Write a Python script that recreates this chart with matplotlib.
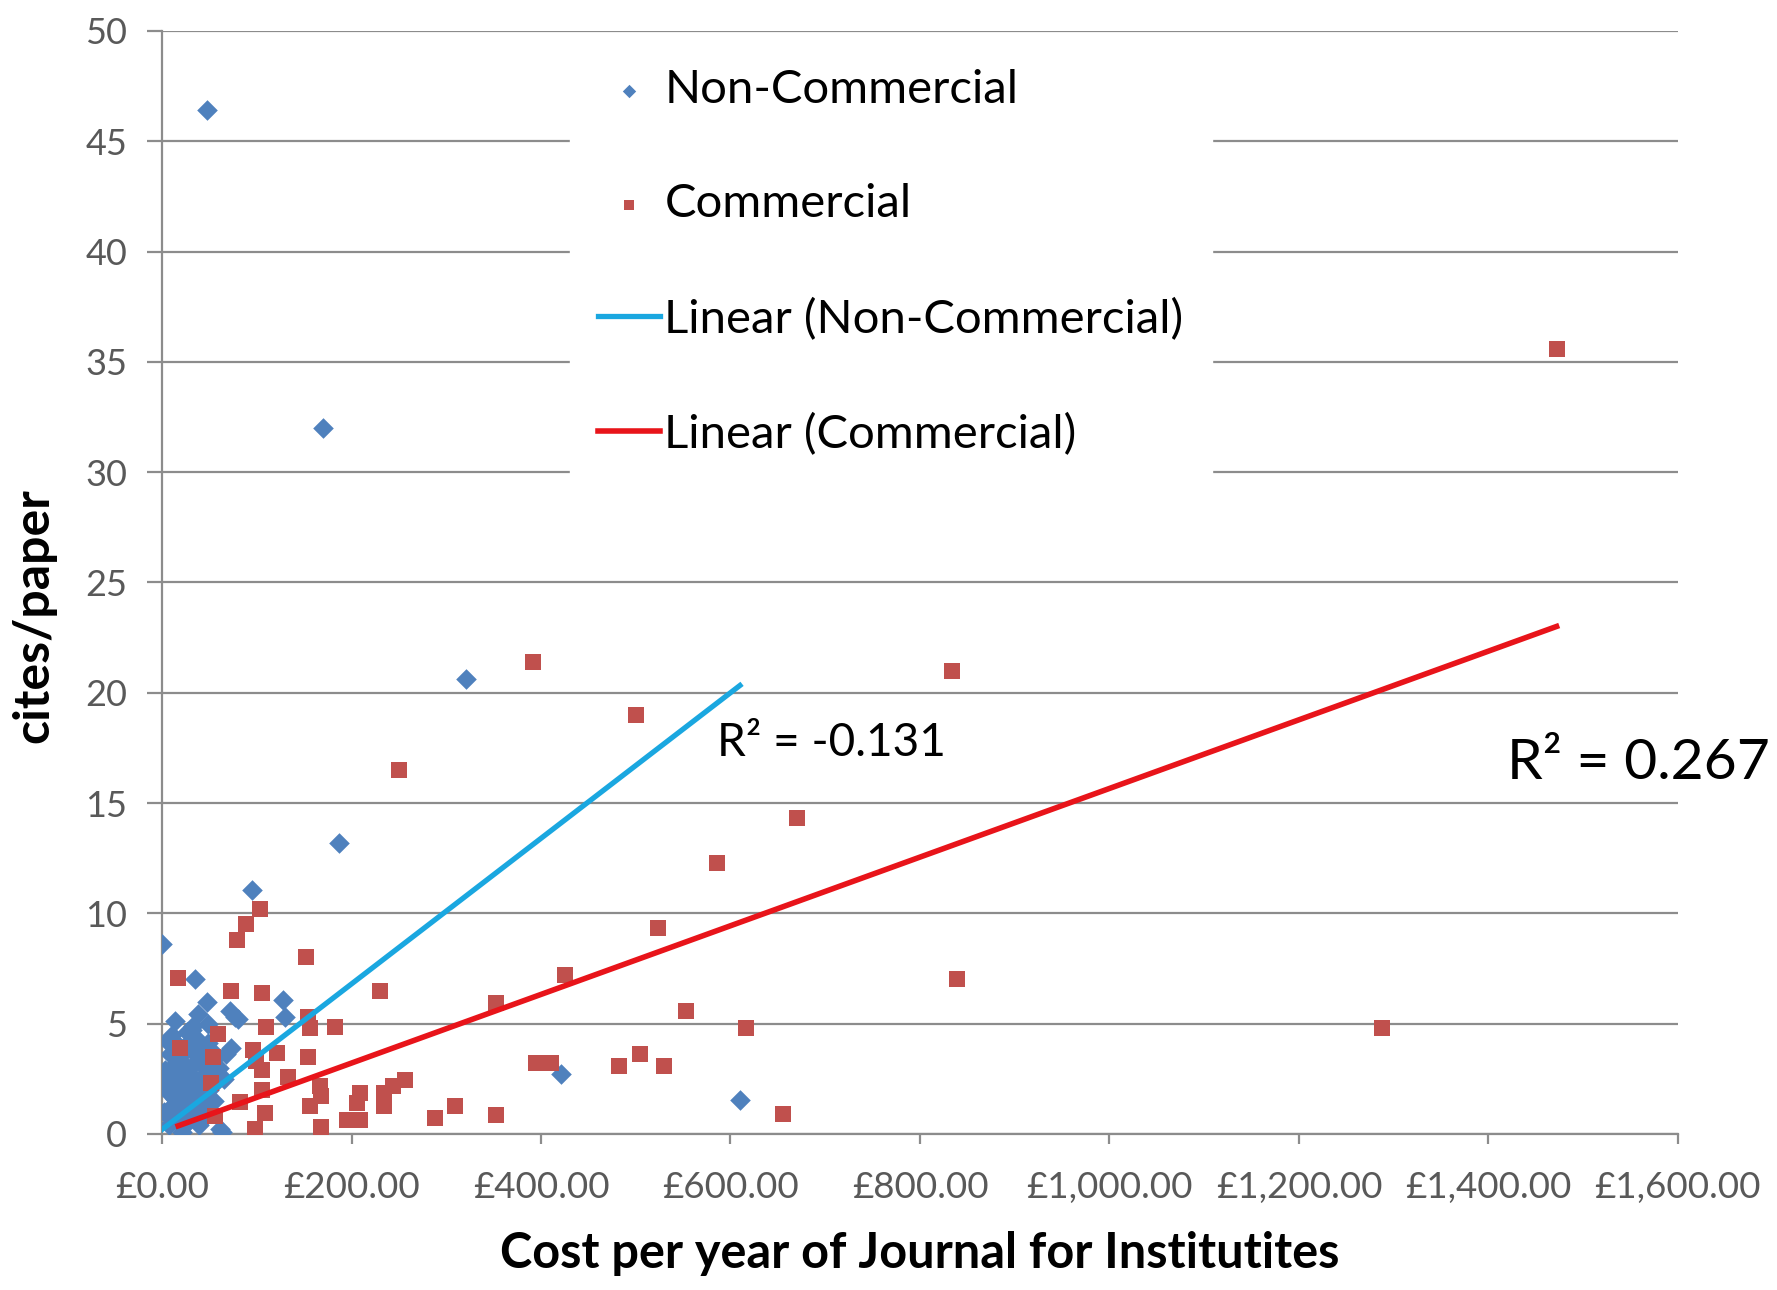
import matplotlib
matplotlib.use("Agg")
import matplotlib.pyplot as plt
from matplotlib.ticker import FuncFormatter
import numpy as np

plt.rcParams['font.family'] = ['Lato', 'DejaVu Sans']

# Non-commercial journals: (cost, cites/paper)
nc_x = [47, 170, 321, 187, 94.5, 0, 35, 421, 610, 128, 130, 47, 38, 72, 80, 14, 33, 49, 77, 32,
        49, 73, 0, 61, 21, 63,
        5, 8, 10, 12, 15, 18, 20, 22, 25, 27, 30, 33, 35, 38, 40, 42, 45, 48, 50, 53, 55, 58,
        6, 9, 12, 14, 16, 19, 21, 24, 26, 28, 31, 34, 36, 39, 41, 44, 46, 51,
        3, 7, 11, 17, 23, 29, 37, 43, 26, 52, 2, 57, 60, 65, 68]
nc_y = [46.4, 32.0, 20.6, 13.2, 11.05, 8.6, 7.0, 2.7, 1.55, 6.05, 5.3, 6.0, 5.45, 5.55, 5.2, 5.1, 4.9, 5.0, 5.3, 4.7,
        4.1, 3.9, 2.4, 0.2, 0.1, 0.1,
        4.2, 3.6, 4.5, 3.1, 2.8, 4.0, 3.3, 2.5, 3.8, 2.1, 3.0, 2.6, 3.6, 2.2, 3.2, 1.8, 2.7, 3.4, 2.0, 2.9, 1.5, 2.4,
        1.9, 1.2, 0.8, 1.6, 2.2, 0.5, 1.4, 1.0, 1.8, 0.6, 1.3, 0.9, 1.7, 0.4, 1.1, 0.7, 1.5, 1.0,
        2.9, 0.4, 2.4, 1.0, 3.0, 4.2, 4.3, 4.0, 4.6, 3.8, 1.0, 3.5, 3.0, 2.5, 3.6]

# Commercial journals
c_x = [1472, 392, 834, 500, 250, 670, 586, 103, 89, 79, 523, 152, 17, 839, 73, 105, 230, 425, 352, 553,
       1288, 616, 183, 154, 156, 110, 59.5, 19, 54, 96, 105, 121, 154, 133, 52, 105, 167, 168, 156, 109,
       82, 98, 168, 195, 56, 209, 206, 209, 234, 234, 244, 256, 288, 309, 353, 655, 482, 504, 530, 395,
       411, 99]
c_y = [35.6, 21.4, 21.0, 19.0, 16.5, 14.3, 12.3, 10.2, 9.5, 8.8, 9.35, 8.0, 7.05, 7.0, 6.5, 6.4, 6.5, 7.2, 5.95, 5.55,
       4.8, 4.8, 4.85, 5.3, 4.8, 4.85, 4.55, 3.9, 3.5, 3.8, 2.9, 3.65, 3.5, 2.6, 2.3, 2.0, 2.15, 1.7, 1.25, 0.95,
       1.45, 0.2, 0.33, 0.63, 0.8, 1.85, 1.4, 0.63, 1.85, 1.25, 2.15, 2.45, 0.7, 1.25, 0.86, 0.9, 3.1, 3.6, 3.1, 3.2,
       3.2, 3.3]

# Trend lines (as shown on chart): slope, intercept, x-range
nc_fit = (0.0330, 0.2, 0, 610)
c_fit = (0.01556, 0.1, 17, 1472)
nc_r2_label = "R² = -0.131"
c_r2_label = "R² = 0.267"

x_ticks = [0, 200, 400, 600, 800, 1000, 1200, 1400, 1600]
y_ticks = list(range(0, 51, 5))

fig = plt.figure(figsize=(17.77, 12.9), dpi=100)
ax = fig.add_axes([0.0912, 0.121, 0.853, 0.855])

grid_col = '#8c8c8c'
ax.set_xlim(0, 1600)
ax.set_ylim(0, 50)
ax.set_yticks(y_ticks)
ax.set_xticks(x_ticks)
ax.yaxis.grid(True, color=grid_col, linewidth=1.6)
ax.set_axisbelow(True)
for s in ['top', 'right']:
    ax.spines[s].set_visible(False)
for s in ['left', 'bottom']:
    ax.spines[s].set_color(grid_col)
    ax.spines[s].set_linewidth(1.6)

ax.xaxis.set_major_formatter(FuncFormatter(lambda v, p: "£{:,.2f}".format(v)))
ax.tick_params(axis='y', length=11, width=1.6, color=grid_col, labelsize=26, labelcolor='#595959', pad=14)
ax.tick_params(axis='x', length=7, width=1.6, color=grid_col, labelsize=26.5, labelcolor='#595959', pad=20)

h1 = ax.scatter(nc_x, nc_y, marker='D', s=110, color='#4F81BD', zorder=3, label='Non-Commercial', linewidths=0)
h2 = ax.scatter(c_x, c_y, marker='s', s=140, color='#C0504D', zorder=3, label='Commercial', linewidths=0)

xs = np.array([nc_fit[2], nc_fit[3]])
h3, = ax.plot(xs, nc_fit[0] * xs + nc_fit[1], color='#1AA7E0', linewidth=3.8, zorder=4,
              label='Linear (Non-Commercial)')
xs2 = np.array([c_fit[2], c_fit[3]])
h4, = ax.plot(xs2, c_fit[0] * xs2 + c_fit[1], color='#E8141A', linewidth=4.0, zorder=4,
              label='Linear (Commercial)')

ax.text(586, 17.7, nc_r2_label, fontsize=33, va='center', ha='left', color='black')
ax.text(1420, 16.8, c_r2_label, fontsize=41, va='center', ha='left', color='black', clip_on=False)

leg = ax.legend(handles=[h1, h2, h3, h4], loc='upper left', bbox_to_anchor=(0.269, 0.991),
                fontsize=34, frameon=True, fancybox=False, framealpha=1, edgecolor='white',
                facecolor='white', labelspacing=1.53, handlelength=1.3, handletextpad=0.1,
                markerscale=0.65, borderpad=0.6, borderaxespad=0.0)

ax.set_xlabel('Cost per year of Journal for Institutites', fontsize=35, fontweight='bold')
ax.set_ylabel('cites/paper', fontsize=36, fontweight='bold')
ax.xaxis.set_label_coords(0.5, -0.088)
ax.yaxis.set_label_coords(-0.070, 0.47)

fig.savefig('out.png', dpi=100)
